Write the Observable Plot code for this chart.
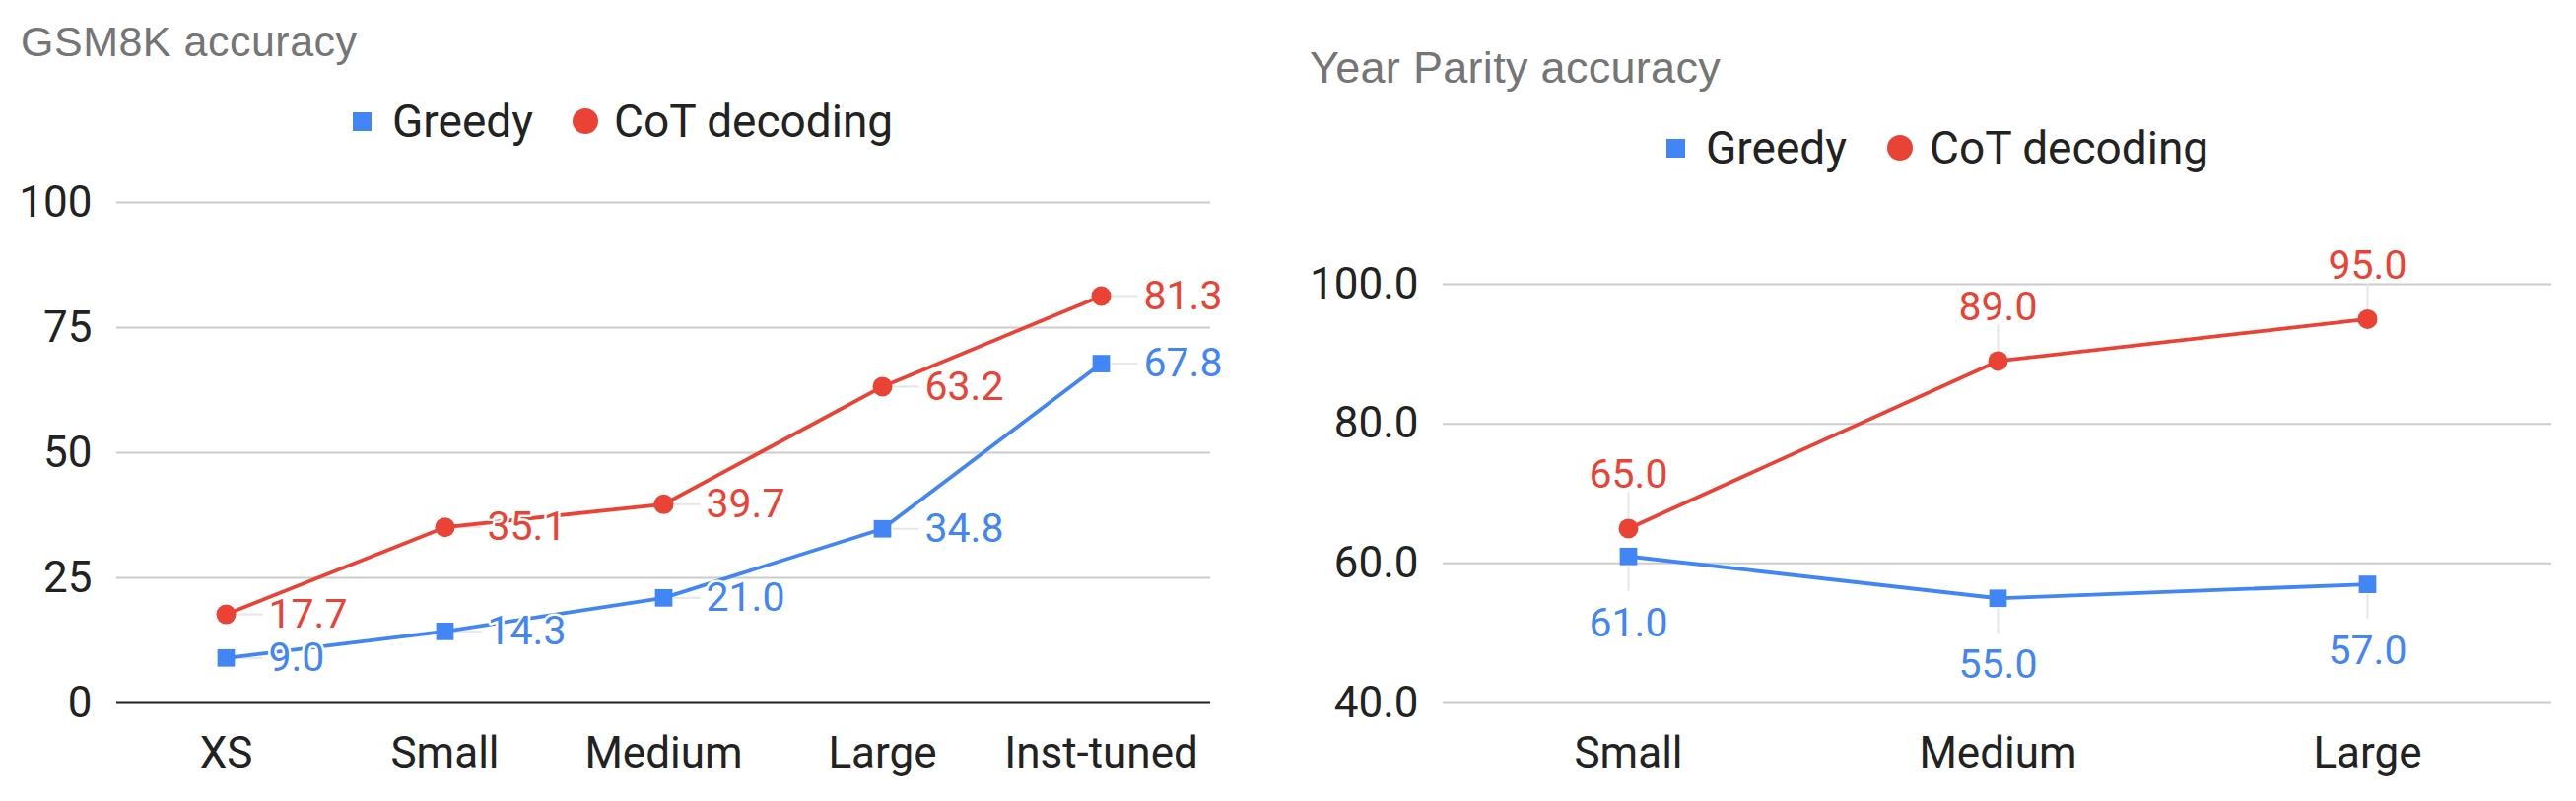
<!DOCTYPE html>
<html><head><meta charset="utf-8">
<script src="https://cdn.jsdelivr.net/npm/d3@7"></script>
<script src="https://cdn.jsdelivr.net/npm/@observablehq/plot@0.6"></script>
<style>
body{margin:0;background:#fff;font-family:Roboto,sans-serif;}
#root{position:relative;width:2614px;height:813px;overflow:hidden;background:#fff;}
.abs{position:absolute;white-space:nowrap;line-height:1;}
.title{color:#757575;font-family:"Liberation Sans",Arial,sans-serif;}
.leg{font-size:46px;color:#222;}
.chart{position:absolute;top:0;}
.chart svg{overflow:visible;}
</style></head><body><div id="root"></div>
<script>
// ---- data ----
const gsmCategories = ["XS", "Small", "Medium", "Large", "Inst-tuned"];
const gsmGreedy = [9.0, 14.3, 21.0, 34.8, 67.8];
const gsmCot = [17.7, 35.1, 39.7, 63.2, 81.3];
const gsmTicks = [0, 25, 50, 75, 100];

const yearCategories = ["Small", "Medium", "Large"];
const yearGreedy = [61.0, 55.0, 57.0];
const yearCot = [65.0, 89.0, 95.0];
const yearTicks = [40, 60, 80, 100];

const seriesNames = ["Greedy", "CoT decoding"];
const seriesColors = ["#4285F4", "#EA4335"];
const seriesSymbols = ["square", "circle"];
const titles = ["GSM8K accuracy", "Year Parity accuracy"];

// ---- helpers ----
function rows(cats, g, c) {
  return cats.flatMap((k, i) => [
    {cat: k, series: seriesNames[0], v: g[i]},
    {cat: k, series: seriesNames[1], v: c[i]}
  ]);
}
const gsm = rows(gsmCategories, gsmGreedy, gsmCot);
const year = rows(yearCategories, yearGreedy, yearCot);

const hLeader = {draw(ctx) { ctx.moveTo(10, 0); ctx.lineTo(37, 0); }};
const vUp = {draw(ctx) { ctx.moveTo(0, -10); ctx.lineTo(0, -37); }};
const vDown = {draw(ctx) { ctx.moveTo(0, 10); ctx.lineTo(0, 35); }};

const commonScales = {
  color: {domain: seriesNames, range: seriesColors},
  symbol: {domain: seriesNames, range: seriesSymbols}
};
const style = {fontFamily: "Roboto, sans-serif", color: "#222", background: "transparent", overflow: "visible"};
const halo = {stroke: "white", strokeWidth: 5, paintOrder: "stroke"};

const root = document.getElementById("root");

// ---- left chart ----
const left = Plot.plot({
  width: 1290, height: 813,
  marginLeft: 118, marginRight: 62, marginTop: 205, marginBottom: 100,
  style,
  x: {type: "point", domain: gsmCategories, padding: 0.5, align: 0.5},
  y: {domain: [0, 100]},
  ...commonScales,
  marks: [
    Plot.ruleY(gsmTicks.filter(t => t !== 0), {stroke: "#cccccc", strokeWidth: 2}),
    Plot.axisY({ticks: gsmTicks, tickSize: 0, tickPadding: 25, tickFormat: d => String(d), label: null, fontSize: 44, fill: "#222"}),
    Plot.axisX({tickSize: 0, tickPadding: 34, label: null, fontSize: 44, fill: "#222"}),
    Plot.ruleY([0], {stroke: "#222", strokeWidth: 2}),
    Plot.dot(gsm, {x: "cat", y: "v", symbol: hLeader, stroke: "#e6e6e6", strokeWidth: 2, fill: "none"}),
    Plot.line(gsm, {x: "cat", y: "v", z: "series", stroke: "series", strokeWidth: 3.8}),
    Plot.dot(gsm, {x: "cat", y: "v", symbol: "series", fill: "series", r: 10}),
    Plot.text(gsm, {x: "cat", y: "v", text: d => d.v.toFixed(1), fill: "series", textAnchor: "start", dx: 43, fontSize: 41, ...halo})
  ]
});
const lw = document.createElement("div");
lw.className = "chart"; lw.style.left = "0px";
lw.appendChild(left);
root.appendChild(lw);

// ---- right chart ----
const yearCotRows = year.filter(d => d.series === seriesNames[1]);
const yearGreedyRows = year.filter(d => d.series === seriesNames[0]);
const right = Plot.plot({
  width: 1324, height: 813,
  marginLeft: 174, marginRight: 25, marginTop: 288, marginBottom: 100,
  style,
  x: {type: "point", domain: yearCategories, padding: 0.5, align: 0.5},
  y: {domain: [40, 100]},
  ...commonScales,
  marks: [
    Plot.ruleY(yearTicks, {stroke: "#cccccc", strokeWidth: 2}),
    Plot.axisY({ticks: yearTicks, tickSize: 0, tickPadding: 25, tickFormat: d => d.toFixed(1), label: null, fontSize: 44, fill: "#222"}),
    Plot.axisX({tickSize: 0, tickPadding: 34, label: null, fontSize: 44, fill: "#222"}),
    Plot.dot(yearCotRows, {x: "cat", y: "v", symbol: vUp, stroke: "#e6e6e6", strokeWidth: 2, fill: "none"}),
    Plot.dot(yearGreedyRows, {x: "cat", y: "v", symbol: vDown, stroke: "#e6e6e6", strokeWidth: 2, fill: "none"}),
    Plot.line(year, {x: "cat", y: "v", z: "series", stroke: "series", strokeWidth: 3.8}),
    Plot.dot(year, {x: "cat", y: "v", symbol: "series", fill: "series", r: 10}),
    Plot.text(yearCotRows, {x: "cat", y: "v", text: d => d.v.toFixed(1), fill: "series", textAnchor: "middle", lineAnchor: "bottom", dy: -41, fontSize: 41, ...halo}),
    Plot.text(yearGreedyRows, {x: "cat", y: "v", text: d => d.v.toFixed(1), fill: "series", textAnchor: "middle", lineAnchor: "top", dy: 52, fontSize: 41, ...halo})
  ]
});
const rw = document.createElement("div");
rw.className = "chart"; rw.style.left = "1290px";
rw.appendChild(right);
root.appendChild(rw);

// ---- titles & legends (HTML) ----
function addText(txt, cls, left, baseline, size, spacing) {
  const d = document.createElement("div");
  d.className = "abs " + cls;
  d.textContent = txt;
  d.style.fontSize = size + "px";
  if (spacing) d.style.letterSpacing = spacing + "px";
  d.style.left = left + "px";
  // baseline sits ~0.84em under the top of a line-height:1 box
  d.style.top = (baseline - 0.84 * size) + "px";
  root.appendChild(d);
  return d;
}
function addSwatch(kind, color, cx, cy, size) {
  const d = document.createElement("div");
  d.className = "abs";
  d.style.width = size + "px"; d.style.height = size + "px";
  d.style.left = (cx - size / 2) + "px"; d.style.top = (cy - size / 2) + "px";
  d.style.background = color;
  if (kind === "circle") d.style.borderRadius = "50%";
  root.appendChild(d);
}
addText(titles[0], "title", 21, 57, 43, 0.5);
addText(titles[1], "title", 1329, 84, 45, 0.3);

// left legend
addSwatch(seriesSymbols[0], seriesColors[0], 367.5, 123, 19);
addText(seriesNames[0], "leg", 398, 139, 46);
addSwatch(seriesSymbols[1], seriesColors[1], 594, 123, 26);
addText(seriesNames[1], "leg", 623, 139, 46);
// right legend
addSwatch(seriesSymbols[0], seriesColors[0], 1700, 150, 19);
addText(seriesNames[0], "leg", 1731, 166, 46);
addSwatch(seriesSymbols[1], seriesColors[1], 1928, 150, 26);
addText(seriesNames[1], "leg", 1958, 166, 46);
</script>
</body></html>
